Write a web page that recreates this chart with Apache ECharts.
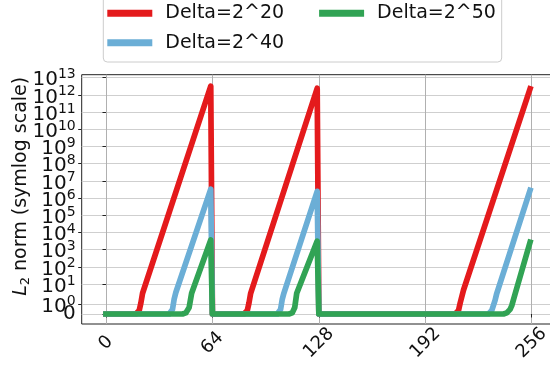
<!DOCTYPE html>
<html>
<head>
<meta charset="utf-8">
<script src="https://cdn.jsdelivr.net/npm/echarts@6/dist/echarts.min.js"></script>
<style>
  html, body { margin: 0; padding: 0; background: #ffffff; }
  #chart { width: 550px; height: 368px; }
</style>
</head>
<body>
<div id="chart"></div>
<script>
// L2 norm per step for three Delta settings, as [step, norm] pairs
const seriesNames = ['Delta=2^20', 'Delta=2^40', 'Delta=2^50'];
const seriesColors = ['#e41a1c', '#6baed6', '#31a354'];

const redPoints = [
  [0, 0], [18, 0], [20, 0.4], [21, 1.2], [22, 2.9], [63, 3.2e12], [64, 0],
  [83, 0], [85, 0.4], [86, 1.2], [87, 2.9], [127, 2.4e12], [128, 0],
  [210, 0], [212, 0.4], [213, 1.2], [215, 4.5], [255, 2.2e12]
];
const bluePoints = [
  [0, 0], [38, 0], [40, 0.5], [41, 1.6], [42, 3.2], [63, 3.3e6], [64, 0],
  [103, 0], [105, 0.5], [106, 1.6], [107, 3.0], [127, 2.45e6], [128, 0],
  [230, 0], [232, 0.4], [234, 1.5], [235, 2.9], [255, 2.8e6]
];
const greenPoints = [
  [0, 0], [46, 0], [48, 0.12], [50, 0.7], [51.5, 2.9], [63, 3600], [64, 0],
  [110, 0], [112, 0.12], [113.5, 0.7], [114.7, 2.9], [127, 3100], [128, 0],
  [239, 0], [241, 0.12], [243, 0.5], [244, 0.9], [246, 2.6], [255, 2700]
];

const xTickValues = [0, 64, 128, 192, 256];
const yTickValues = [0, 1, 1e1, 1e2, 1e3, 1e4, 1e5, 1e6, 1e7, 1e8, 1e9, 1e10, 1e11, 1e12, 1e13];
const yTickLabels = ['0', '10^0', '10^1', '10^2', '10^3', '10^4', '10^5', '10^6', '10^7',
                     '10^8', '10^9', '10^10', '10^11', '10^12', '10^13'];

// symmetric log transform: linear near zero, log10 beyond the threshold
const LINTHRESH = 1.89;
const LINSCALE = 1.02;
function symlog(v) {
  const a = Math.abs(v);
  const t = a <= LINTHRESH ? a * LINSCALE / LINTHRESH : LINSCALE + Math.log10(a / LINTHRESH);
  return v < 0 ? -t : t;
}

const yTickPositions = yTickValues.map(symlog);
// ticks are split over two stacked left axes so neighbouring labels never collide
const yTicksA = yTickPositions.filter((_, i) => i % 2 === 0);
const yTicksB = yTickPositions.filter((_, i) => i % 2 === 1);
const FONT = 'DejaVu Sans';
const Y_MIN = -0.581, Y_MAX = 13.913;

function yLabel(value) {
  let best = 0;
  yTickPositions.forEach((p, i) => {
    if (Math.abs(p - value) < Math.abs(yTickPositions[best] - value)) best = i;
  });
  const txt = yTickLabels[best];
  const parts = txt.split('^');
  if (parts.length === 1) return '{z|' + txt + '}';
  return '{b|' + parts[0] + '}{s|' + parts[1] + '}';
}

const yLabelRich = {
  z: { fontFamily: FONT, fontSize: 20, lineHeight: 20 },
  b: { fontFamily: FONT, fontSize: 20, lineHeight: 20, padding: [5, 0, 0, 0] },
  s: { fontFamily: FONT, fontSize: 14, lineHeight: 14, verticalAlign: 'top' }
};

function makeYAxis(ticks, withName) {
  const axis = {
    type: 'value', min: Y_MIN, max: Y_MAX, position: 'left', offset: 0,
    axisLine: { show: false },
    axisTick: { show: true, customValues: ticks, length: 3.5, lineStyle: { color: '#222' } },
    axisLabel: {
      customValues: ticks, margin: 6, formatter: yLabel, color: '#111',
      showMinLabel: true, showMaxLabel: true, hideOverlap: false, rich: yLabelRich
    },
    splitLine: { show: true, lineStyle: { color: '#cfcfcf', width: 1 } }
  };
  if (withName) {
    Object.assign(axis, {
      name: '{i|L}{sub|2}{n| norm (symlog scale)}',
      nameLocation: 'middle', nameRotate: 90, nameGap: 50, nameMoveOverlap: false,
      nameTextStyle: {
        color: '#111', padding: [0, 0, 0, 26],
        rich: {
          i: { fontFamily: FONT, fontSize: 19, fontStyle: 'italic', lineHeight: 22 },
          sub: { fontFamily: FONT, fontSize: 13, lineHeight: 22, verticalAlign: 'bottom' },
          n: { fontFamily: FONT, fontSize: 19, lineHeight: 22 }
        }
      }
    });
  }
  return axis;
}

const allPoints = [redPoints, bluePoints, greenPoints];

const chart = echarts.init(document.getElementById('chart'), null, { renderer: 'canvas' });

chart.setOption({
  animation: false,
  backgroundColor: '#ffffff',
  textStyle: { fontFamily: FONT },
  grid: {
    left: 81.7, top: 74.7, width: 473.3, height: 249.3,
    show: true, borderColor: '#222222', borderWidth: 1,
    outerBoundsMode: 'none', containLabel: false
  },
  graphic: [{
    type: 'rect', z: 3,
    shape: { x: 103.3, y: -8, width: 398.4, height: 70, r: 4 },
    style: { fill: 'rgba(255,255,255,0.85)', stroke: '#cccccc', lineWidth: 1 }
  }],
  legend: [{
    data: [seriesNames[0], seriesNames[2]],
    left: 107.3, top: -1.4, orient: 'horizontal', itemGap: 35,
    icon: 'rect', itemWidth: 45, itemHeight: 7, padding: 0,
    textStyle: { fontFamily: FONT, fontSize: 19, color: '#111', lineHeight: 29.4, padding: [0, 0, 0, 8] }
  }, {
    data: [seriesNames[1]],
    left: 107.3, top: 28, orient: 'horizontal',
    icon: 'rect', itemWidth: 45, itemHeight: 7, padding: 0,
    textStyle: { fontFamily: FONT, fontSize: 19, color: '#111', lineHeight: 29.4, padding: [0, 0, 0, 8] }
  }],
  xAxis: {
    type: 'value', min: -14.6, max: 270,
    axisLine: { show: false },
    axisTick: { show: true, customValues: xTickValues, length: 3.5, lineStyle: { color: '#222' } },
    axisLabel: {
      customValues: xTickValues, rotate: 45, align: 'center', verticalAlign: 'middle',
      margin: 19, fontFamily: FONT, fontSize: 18, color: '#111'
    },
    splitLine: { show: true, lineStyle: { color: '#b0b0b0', width: 1 } }
  },
  yAxis: [makeYAxis(yTicksA, true), makeYAxis(yTicksB, false)],
  series: allPoints.map((pts, i) => ({
    name: seriesNames[i],
    type: 'line',
    yAxisIndex: 0,
    data: pts.map(p => [p[0], symlog(p[1])]),
    showSymbol: false,
    symbol: 'none',
    color: seriesColors[i],
    lineStyle: { width: 5.7, color: seriesColors[i], join: 'round', cap: 'square' }
  }))
});
</script>
</body>
</html>
